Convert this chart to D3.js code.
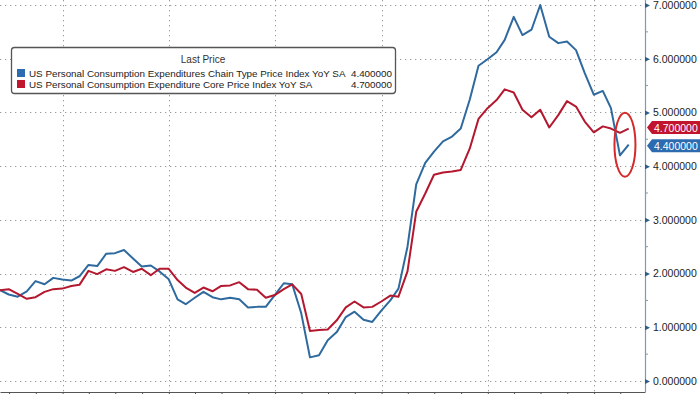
<!DOCTYPE html>
<html>
<head>
<meta charset="utf-8">
<script src="https://cdn.jsdelivr.net/npm/d3@7"></script>
<style>
  body { margin: 0; background: #fff; }
  svg { display: block; font-family: "Liberation Sans", Arial, sans-serif; }
</style>
</head>
<body>
<div id="chart"></div>
<script>
// monthly, May 2017 .. Apr 2023 (points at month end)
const startMonth = '2017-05';
const headline = [
  1.69, 1.61, 1.57, 1.67, 1.86, 1.80, 1.92, 1.89,
  1.87, 1.95, 2.16, 2.14, 2.37, 2.38, 2.44, 2.28, 2.13, 2.15, 2.04, 1.90,
  1.52, 1.43, 1.55, 1.66, 1.56, 1.52, 1.55, 1.52, 1.37, 1.38, 1.38, 1.60,
  1.82, 1.80, 1.26, 0.44, 0.48, 0.76, 0.91, 1.19, 1.29, 1.14, 1.10, 1.31,
  1.50, 1.72, 2.50, 3.66, 4.06, 4.27, 4.46, 4.55, 4.70, 5.24, 5.87, 5.99,
  6.12, 6.35, 6.78, 6.44, 6.54, 7.00, 6.41, 6.29, 6.32, 6.16, 5.73, 5.33,
  5.40, 5.08, 4.20, 4.40
];
const core = [
  1.69, 1.71, 1.62, 1.53, 1.56, 1.66, 1.71, 1.72,
  1.77, 1.79, 2.05, 1.99, 2.08, 2.05, 2.12, 2.03, 2.09, 1.97, 2.09, 2.09,
  1.88, 1.74, 1.64, 1.74, 1.67, 1.77, 1.78, 1.84, 1.71, 1.70, 1.55, 1.60,
  1.71, 1.80, 1.62, 0.93, 0.95, 0.96, 1.13, 1.37, 1.48, 1.37, 1.38, 1.48,
  1.59, 1.57, 2.04, 3.15, 3.49, 3.84, 3.88, 3.90, 3.93, 4.33, 4.88, 5.08,
  5.23, 5.43, 5.37, 5.05, 4.91, 5.05, 4.72, 4.95, 5.21, 5.11, 4.83, 4.63,
  4.74, 4.70, 4.62, 4.70
];
const seriesNames = [
  'US Personal Consumption Expenditures Chain Type Price Index YoY SA',
  'US Personal Consumption Expenditure Core Price Index YoY SA'
];
const lastPrices = [4.4, 4.7];
const yTicks = [0, 1, 2, 3, 4, 5, 6, 7];
const legendTitle = 'Last Price';

const colors = ['#2f6a9f', '#b3182f'];
const tagColors = ['#2c6bb0', '#c0142f'];

const width = 700, height = 394;
const plot = { left: 0, right: 645, top: 0, bottom: 392 };

const parseMonth = d3.timeParse('%Y-%m');
const monthEnd = (i) => d3.timeDay.offset(d3.timeMonth.offset(parseMonth(startMonth), i + 1), -1);
const dates = headline.map((_, i) => monthEnd(i));

const series = [headline, core].map((vals, k) => ({
  name: seriesNames[k],
  color: colors[k],
  values: vals.map((v, i) => ({ date: dates[i], y: v }))
}));

const x = d3.scaleTime()
  .domain([new Date(2017, 4, 31), new Date(2023, 5, 25)])
  .range([plot.left, plot.right]);
const y = d3.scaleLinear().domain([0, 7]).range([381, 5]);

const svg = d3.select('#chart').append('svg')
  .attr('width', width)
  .attr('height', height);

// grid
const grid = svg.append('g').attr('stroke', '#9a9a9a').attr('stroke-width', 1).attr('stroke-dasharray', '1.3,3.7');
grid.selectAll('.hg').data(yTicks).enter().append('line')
  .attr('x1', plot.left).attr('x2', plot.right)
  .attr('y1', (d) => Math.round(y(d)) + 0.5).attr('y2', (d) => Math.round(y(d)) + 0.5);
grid.selectAll('.vg').data(d3.timeYear.range(new Date(2018, 0, 1), new Date(2023, 1, 1))).enter().append('line')
  .attr('x1', (d) => Math.round(x(d)) + 0.5).attr('x2', (d) => Math.round(x(d)) + 0.5)
  .attr('y1', plot.top).attr('y2', plot.bottom);

// bottom axis, quarterly ticks, no labels
const xAxis = svg.append('g')
  .attr('transform', `translate(0,${plot.bottom})`)
  .call(d3.axisBottom(x).ticks(d3.timeMonth.every(3)).tickFormat('').tickSize(5).tickSizeOuter(0));
xAxis.select('.domain').attr('stroke', '#555');
xAxis.selectAll('.tick line').attr('stroke', '#555');

// right axis
const yAxis = svg.append('g')
  .attr('transform', `translate(${plot.right},0)`)
  .call(d3.axisRight(y).tickValues(yTicks).tickFormat(d3.format('.6f')).tickSize(0).tickPadding(8).tickSizeOuter(0));
yAxis.select('.domain').attr('stroke', '#7f9bb0').attr('stroke-width', 1.2).attr('d', `M0.5,0V${plot.bottom}`);
yAxis.selectAll('.tick text').attr('fill', '#222').style('font-size', '10.5px');
yAxis.selectAll('.tick').append('path')
  .attr('d', 'M0,-2.5L5,0L0,2.5Z')
  .attr('fill', '#2d5f86');
svg.append('g').selectAll('line').data(d3.range(0.5, 7, 1)).enter().append('line')
  .attr('x1', plot.right).attr('x2', plot.right + 3)
  .attr('y1', (d) => y(d)).attr('y2', (d) => y(d))
  .attr('stroke', '#7f9bb0');

// lines
const line = d3.line().x((d) => x(d.date)).y((d) => y(d.y));
svg.append('g').selectAll('path').data(series).enter().append('path')
  .attr('fill', 'none')
  .attr('stroke', (d) => d.color)
  .attr('stroke-width', 2)
  .attr('stroke-linejoin', 'round')
  .attr('d', (d) => line(d.values));

// last value tags
const tags = svg.append('g');
lastPrices.forEach((v, k) => {
  const cy = y(v) + (k === 0 ? 1 : -1);
  const g = tags.append('g').attr('transform', `translate(${plot.right + 2},${cy})`);
  g.append('path')
    .attr('d', 'M0,0L5,-6.5H53V6.5H5Z')
    .attr('fill', tagColors[k]);
  g.append('text')
    .attr('x', 7).attr('y', 4)
    .attr('fill', '#fff')
    .style('font-size', '10.5px')
    .text(d3.format('.6f')(v));
});

// red ellipse annotation
svg.append('ellipse')
  .attr('cx', x(new Date(2023, 2, 31)) + 5)
  .attr('cy', y(lastPrices[0]))
  .attr('rx', 10.5).attr('ry', 32)
  .attr('fill', 'none')
  .attr('stroke', '#d42a2a')
  .attr('stroke-width', 2);

// legend
const legend = svg.append('g').attr('transform', 'translate(11,47)');
legend.append('rect')
  .attr('x', 0.5).attr('y', 0.5).attr('width', 384).attr('height', 46).attr('rx', 3)
  .attr('fill', '#fff').attr('stroke', '#555').attr('stroke-width', 1.3);
legend.append('text')
  .attr('x', 192).attr('y', 16).attr('text-anchor', 'middle')
  .attr('fill', '#333').style('font-size', '10px')
  .text(legendTitle);
series.forEach((s, k) => {
  const ry = 25 + k * 11;
  legend.append('rect').attr('x', 6).attr('y', ry - 3).attr('width', 8).attr('height', 8).attr('fill', tagColors[k]);
  legend.append('text').attr('x', 18).attr('y', ry + 4.5)
    .attr('fill', '#222').style('font-size', '9.85px').text(s.name);
  legend.append('text').attr('x', 381).attr('y', ry + 4.5).attr('text-anchor', 'end')
    .attr('fill', '#222').style('font-size', '9.85px').text(d3.format('.6f')(lastPrices[k]));
});
</script>
</body>
</html>
